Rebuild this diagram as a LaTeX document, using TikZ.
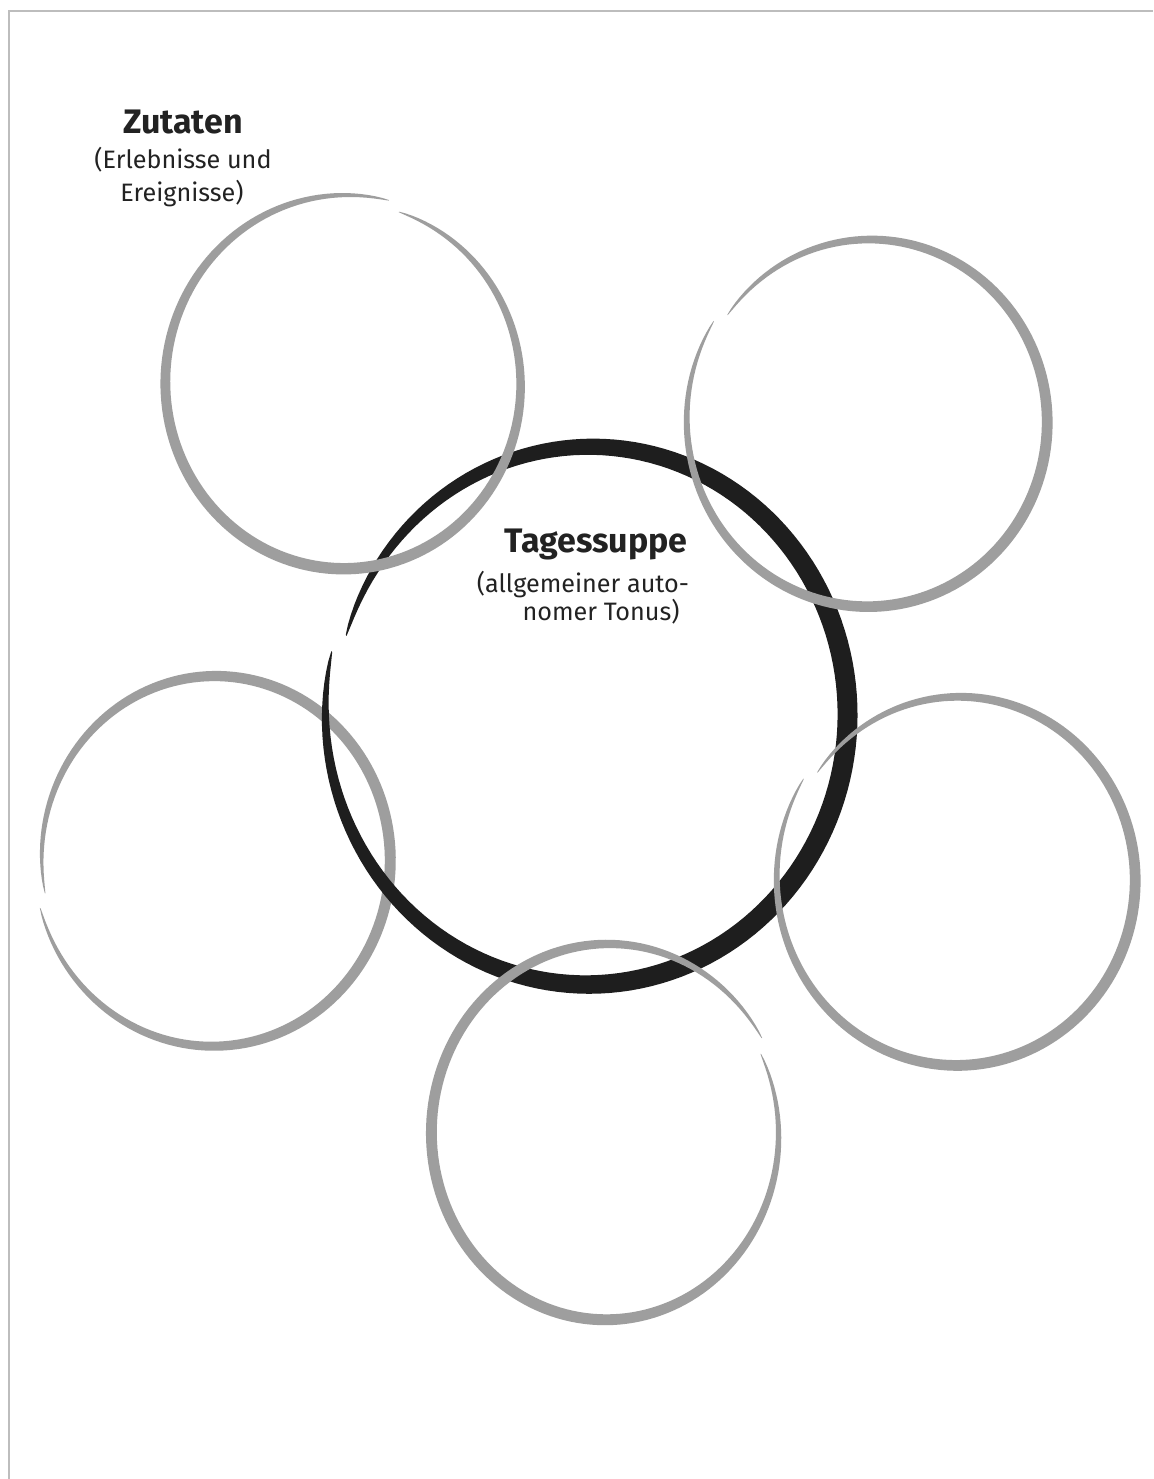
\documentclass[tikz,border=0pt]{standalone}
\usepackage{fontspec}
\setmainfont{Fira Sans}
\definecolor{ringgray}{HTML}{9E9E9E}
\definecolor{ringink}{HTML}{1E1E1E}
\definecolor{framegray}{HTML}{BDBDBD}
\definecolor{textink}{HTML}{222222}
% brush-stroke ring: cx, cy, R, gap angle, max width, spiral offset, y-scale, colour
\newcommand\brushring[8]{%
  \fill[#8] plot[domain=0:1,samples=160,variable=\t]
    ({#1+(#3+(#6)*(\t-0.5)+0.5*#5*(abs(sin(180*\t))+0.002)^0.5)*cos(#4+2+356*\t)},
     {#2-#7*(#3+(#6)*(\t-0.5)+0.5*#5*(abs(sin(180*\t))+0.002)^0.5)*sin(#4+2+356*\t)})
    -- plot[domain=1:0,samples=160,variable=\t]
    ({#1+(#3+(#6)*(\t-0.5)-0.5*#5*(abs(sin(180*\t))+0.002)^0.5)*cos(#4+2+356*\t)},
     {#2-#7*(#3+(#6)*(\t-0.5)-0.5*#5*(abs(sin(180*\t))+0.002)^0.5)*sin(#4+2+356*\t)})
    -- cycle;}
\tikzset{
  title/.style={font=\bfseries\fontsize{17}{20}\selectfont, text=textink, anchor=base, inner sep=0pt},
  sub/.style={font=\fontsize{12.6}{14}\selectfont, text=textink, anchor=base, inner sep=0pt},
  frameline/.style={draw=framegray, line width=1.25pt}
}
\begin{document}
\begin{tikzpicture}[x=0.5pt,y=-0.5pt]
\useasboundingbox (0,0) rectangle (1153,1479);
\fill[white] (0,0) rectangle (1153,1479);
% frame
\coordinate (fb) at (9,1479);
\coordinate (fc) at (9,11);
\coordinate (fr) at (1153,11);
\draw[frameline] (fb) -- (fc) -- (fr);
% rings
\brushring{214}{859}{176}{193}{11}{-8}{1.05}{ringgray}     % left
\brushring{589}{713}{259}{165}{20}{-10}{1.04}{ringink}      % centre
\brushring{345}{384}{178}{74}{11}{-8}{1.04}{ringgray}       % top left
\brushring{869}{421}{179}{146}{11}{-8}{1.03}{ringgray}      % top right
\brushring{958}{879}{178}{146}{11}{-8}{1.04}{ringgray}      % right
\brushring{607}{1134}{175}{28}{11}{-8}{1.07}{ringgray}      % bottom
% texts
\node[title] (zt) at (183,133) {Zutaten};
\node[sub] (zs1) at (183,168) {(Erlebnisse und};
\node[sub] (zs2) at (182,201) {Ereignisse)};
\node[title] (tt) at (596,552) {Tagessuppe};
\node[sub] (ts1) at (583,592) {(allgemeiner auto-};
\node[sub] (ts2) at (601,620) {nomer Tonus)};
\end{tikzpicture}
\end{document}
